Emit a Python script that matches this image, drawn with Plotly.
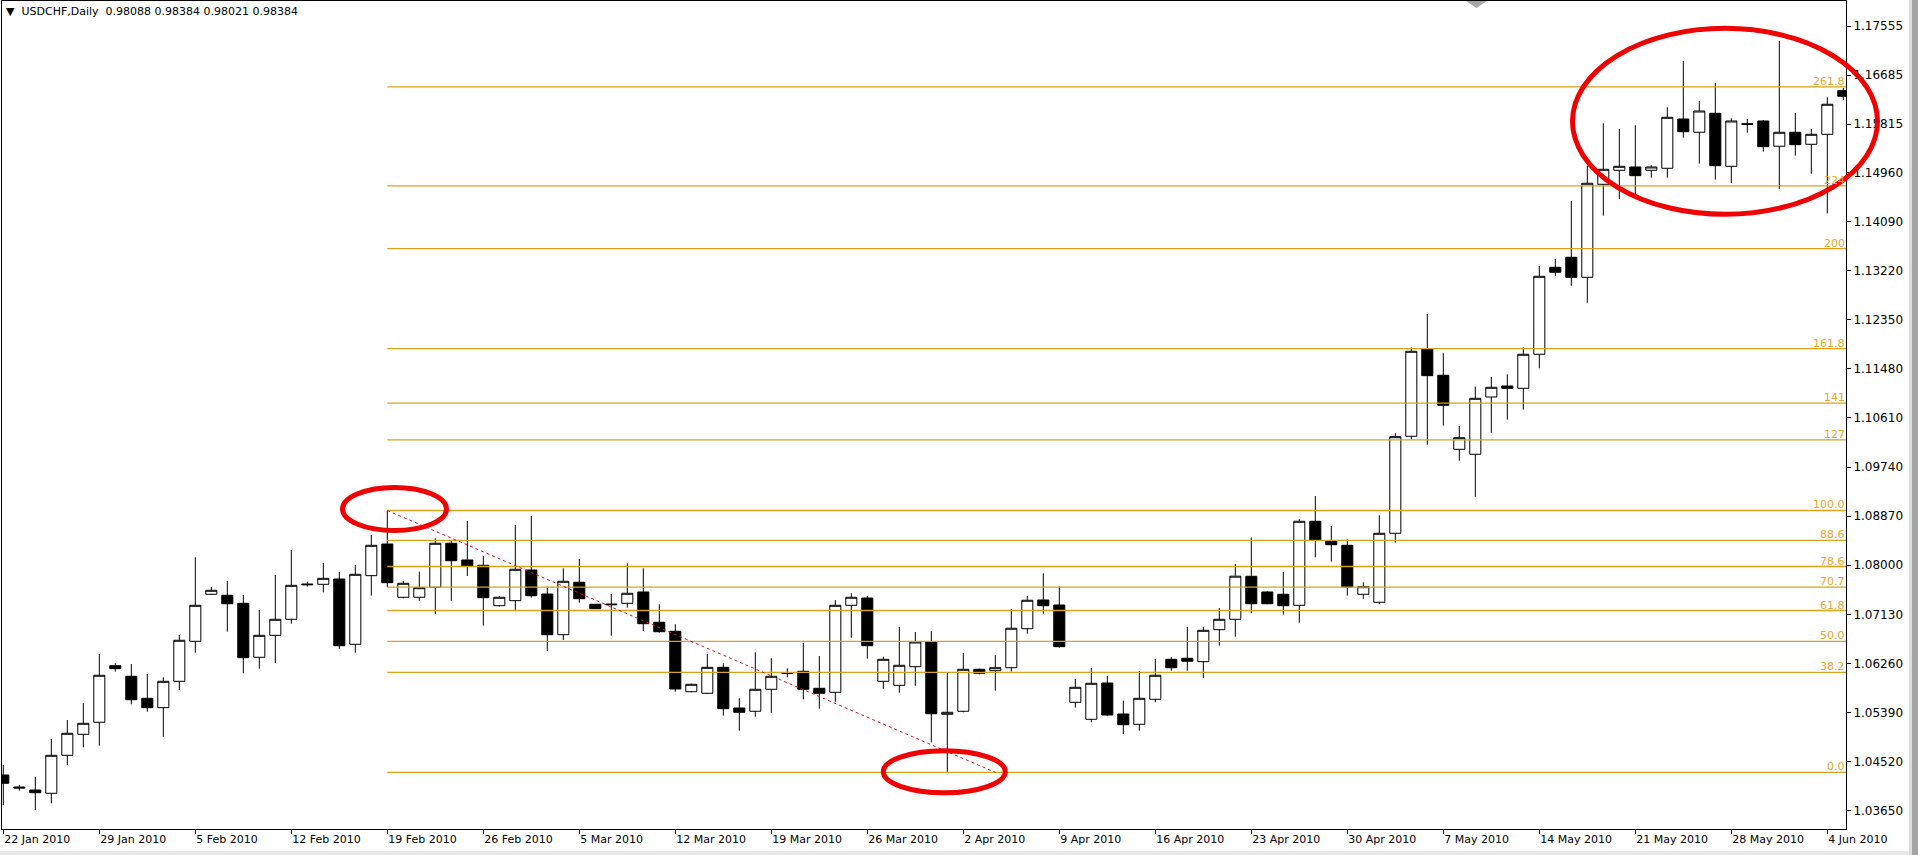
import pandas as pd
import plotly.graph_objects as go

# ── USDCHF daily bars (the feed carries a Sunday session, Saturdays are absent) ──
dates = pd.bdate_range("2010-01-22", periods=116, freq="C",
                       weekmask="Sun Mon Tue Wed Thu Fri")

opens = [
    1.04283, 1.04070, 1.04017, 1.03959, 1.04632, 1.05004, 1.05217, 1.06220,
    1.06032, 1.05642, 1.05476, 1.05943, 1.06652, 1.07485, 1.07467, 1.07325,
    1.06369, 1.06758, 1.07042, 1.07667, 1.07662, 1.07756, 1.06599, 1.07815,
    1.08376, 1.07432, 1.07432, 1.07609, 1.08389, 1.08093, 1.07999, 1.07283,
    1.07372, 1.07916, 1.07490, 1.06769, 1.07698, 1.07308, 1.07313, 1.07325,
    1.07526, 1.06989, 1.06829, 1.05759, 1.05731, 1.06191, 1.05470, 1.05412,
    1.05802, 1.06096, 1.06121, 1.05819, 1.05748, 1.07290, 1.07419, 1.05943,
    1.05872, 1.06202, 1.06640, 1.05359, 1.05412, 1.06156, 1.06131, 1.06184,
    1.06875, 1.07384, 1.07295, 1.05571, 1.05270, 1.05913, 1.05364, 1.05181,
    1.05624, 1.06333, 1.06351, 1.06291, 1.06858, 1.07042, 1.07804, 1.07526,
    1.07485, 1.07290, 1.08779, 1.08430, 1.08353, 1.07485, 1.07343, 1.08566,
    1.10285, 1.11832, 1.11366, 1.10054, 1.09966, 1.10981, 1.11176, 1.11135,
    1.11738, 1.13279, 1.13457, 1.13102, 1.14750, 1.14998, 1.15057, 1.14998,
    1.15034, 1.15907, 1.15672, 1.16008, 1.15069, 1.15824, 1.15872, 1.15424,
    1.15672, 1.15459, 1.15636, 1.16409,
]
highs = [
    1.04460, 1.04106, 1.04253, 1.04921, 1.05258, 1.05554, 1.06427, 1.06262,
    1.06250, 1.06073, 1.06014, 1.06764, 1.08141, 1.07614, 1.07721, 1.07473,
    1.07207, 1.07827, 1.08270, 1.07708, 1.08040, 1.07880, 1.08004, 1.08536,
    1.08970, 1.07721, 1.07886, 1.08477, 1.08447, 1.08784, 1.08164, 1.07455,
    1.08713, 1.08873, 1.07620, 1.07946, 1.08111, 1.07313, 1.07490, 1.08034,
    1.07946, 1.07308, 1.06953, 1.05901, 1.06427, 1.06262, 1.05642, 1.06457,
    1.06351, 1.06174, 1.06622, 1.06392, 1.07384, 1.07503, 1.07455, 1.06379,
    1.06906, 1.06817, 1.06829, 1.06096, 1.06445, 1.06167, 1.06404, 1.07225,
    1.07455, 1.07857, 1.07627, 1.05984, 1.06179, 1.06037, 1.05600, 1.06126,
    1.06339, 1.06369, 1.06906, 1.06911, 1.07242, 1.08022, 1.08495, 1.07538,
    1.07880, 1.08814, 1.09227, 1.08695, 1.08460, 1.07698, 1.08885, 1.10338,
    1.11862, 1.12452, 1.11756, 1.10467, 1.11164, 1.11336, 1.11383, 1.11862,
    1.13302, 1.13427, 1.14454, 1.15080, 1.15831, 1.15730, 1.15796, 1.15087,
    1.16115, 1.16935, 1.16226, 1.16545, 1.15920, 1.15907, 1.15890, 1.17290,
    1.16014, 1.15730, 1.16292, 1.16457,
]
lows = [
    1.03751, 1.04005, 1.03663, 1.03782, 1.04460, 1.04774, 1.04802, 1.06114,
    1.05536, 1.05405, 1.04962, 1.05789, 1.06450, 1.07473, 1.06822, 1.06085,
    1.06167, 1.06262, 1.06964, 1.07620, 1.07520, 1.06521, 1.06450, 1.07460,
    1.07609, 1.07414, 1.07372, 1.07136, 1.07372, 1.07809, 1.06929, 1.07269,
    1.07207, 1.07425, 1.06480, 1.06675, 1.07336, 1.07225, 1.06751, 1.07248,
    1.06835, 1.06805, 1.05759, 1.05748, 1.05718, 1.05334, 1.05068, 1.05316,
    1.05387, 1.06014, 1.05624, 1.05458, 1.05582, 1.06716, 1.06344, 1.05812,
    1.05741, 1.05865, 1.04862, 1.04330, 1.05394, 1.06067, 1.05777, 1.06114,
    1.06787, 1.07141, 1.06539, 1.05476, 1.05217, 1.05334, 1.05010, 1.05068,
    1.05571, 1.06131, 1.06131, 1.06002, 1.06574, 1.06734, 1.07148, 1.07308,
    1.07124, 1.06982, 1.08141, 1.08063, 1.07460, 1.07407, 1.07308, 1.08399,
    1.10232, 1.10136, 1.10473, 1.09852, 1.09215, 1.10349, 1.10579, 1.10756,
    1.11490, 1.13125, 1.12953, 1.12652, 1.14194, 1.14490, 1.14578, 1.14867,
    1.14867, 1.15576, 1.15115, 1.14832, 1.14773, 1.15665, 1.15328, 1.14667,
    1.15257, 1.14938, 1.14236, 1.16244,
]
closes = [
    1.04136, 1.04053, 1.03969, 1.04632, 1.05022, 1.05199, 1.06050, 1.06167,
    1.05617, 1.05476, 1.05943, 1.06670, 1.07290, 1.07556, 1.07318, 1.06362,
    1.06758, 1.07042, 1.07644, 1.07655, 1.07768, 1.06574, 1.07839, 1.08353,
    1.07691, 1.07680, 1.07602, 1.08389, 1.08080, 1.07987, 1.07425, 1.07432,
    1.07928, 1.07460, 1.06769, 1.07715, 1.07407, 1.07230, 1.07301, 1.07503,
    1.06964, 1.06822, 1.05807, 1.05890, 1.06191, 1.05458, 1.05394, 1.05802,
    1.06032, 1.06085, 1.05802, 1.05731, 1.07290, 1.07432, 1.06574, 1.06333,
    1.06227, 1.06640, 1.05369, 1.05394, 1.06156, 1.06085, 1.06184, 1.06883,
    1.07379, 1.07283, 1.06557, 1.05837, 1.05908, 1.05346, 1.05174, 1.05642,
    1.06050, 1.06184, 1.06298, 1.06847, 1.07042, 1.07806, 1.07318, 1.07318,
    1.07283, 1.08779, 1.08447, 1.08364, 1.07614, 1.07620, 1.08566, 1.10278,
    1.11791, 1.11359, 1.10834, 1.10260, 1.10958, 1.11153, 1.11135, 1.11738,
    1.13120, 1.13191, 1.13102, 1.14768, 1.15016, 1.15069, 1.14903, 1.15057,
    1.15937, 1.15682, 1.16049, 1.15080, 1.15872, 1.15813, 1.15417, 1.15672,
    1.15452, 1.15636, 1.16168, 1.16310,
]

# price scale labels as the terminal prints them
price_labels = ["1.03650", "1.04520", "1.05390", "1.06260", "1.07130", "1.08000",
                "1.08870", "1.09740", "1.10610", "1.11480", "1.12350", "1.13220",
                "1.14090", "1.14960", "1.15815", "1.16685", "1.17555"]

# Fibonacci tool: swing high (19 Feb) -> swing low (1 Apr)
FIB_HIGH, FIB_LOW = 1.08970, 1.04330
FIB_START, FIB_END = 24, 62          # bar indexes of the two anchor points
fib_ratios = [0.0, 0.382, 0.5, 0.618, 0.707, 0.786, 0.886, 1.0,
              1.27, 1.41, 1.618, 2.0, 2.24, 2.618]
fib_labels = ["0.0", "38.2", "50.0", "61.8", "70.7", "78.6", "88.6", "100.0",
              "127", "141", "161.8", "200", "224", "261.8"]

TITLE = "▼\u00a0\u00a0USDCHF,Daily\u00a0\u00a00.98088 0.98384 0.98021 0.98384"

# ── Theme / geometry ──────────────────────────────────────────────────────────
FONT     = "DejaVu Sans, Tahoma, sans-serif"
FIB_LINE = "#D9A21C"
FIB_TEXT = "#E6A633"
MARK_RED = "#F00000"
W, H = 1918, 855
PL, PR, PT, PB = 2, 1846, 1, 829     # plot rectangle in page pixels
X_RANGE = [-0.081, 115.169]
Y_RANGE = [1.03326, 1.17998]


def fx(px):
    return (px - PL) / (PR - PL)


def fy(py):
    return (PB - py) / (PB - PT)


def ellipse(cx, cy, rx, ry):
    return dict(type="circle", xref="paper", yref="paper",
                x0=fx(cx - rx), x1=fx(cx + rx), y0=fy(cy + ry), y1=fy(cy - ry),
                line=dict(color=MARK_RED, width=5), layer="above")


x_cat = [d.strftime("%Y-%m-%d") for d in dates]
tick_idx = list(range(0, len(dates), 6))

fig = go.Figure(go.Candlestick(
    x=x_cat, open=opens, high=highs, low=lows, close=closes,
    increasing=dict(line=dict(color="black", width=1), fillcolor="white"),
    decreasing=dict(line=dict(color="black", width=1), fillcolor="black"),
    whiskerwidth=0,
    showlegend=False,
))

shapes = []
annotations = []

# ── Fibonacci levels ──────────────────────────────────────────────────────────
for r, lab in zip(fib_ratios, fib_labels):
    lvl = FIB_LOW + r * (FIB_HIGH - FIB_LOW)
    shapes.append(dict(type="line", xref="x", yref="y",
                       x0=FIB_START, x1=X_RANGE[1], y0=lvl, y1=lvl,
                       line=dict(color=FIB_LINE, width=1.3), layer="above"))
    annotations.append(dict(xref="paper", yref="y", x=1.0, y=lvl,
                            xanchor="right", yanchor="bottom", text=lab,
                            showarrow=False, borderpad=0, yshift=-2,
                            font=dict(family=FONT, size=11, color=FIB_TEXT)))

# dotted trend line of the fib tool
shapes.append(dict(type="line", xref="x", yref="y",
                   x0=FIB_START, y0=FIB_HIGH, x1=FIB_END, y1=FIB_LOW,
                   line=dict(color="#D01818", width=1, dash="dot"), layer="above"))

# ── Hand drawn red ellipses ───────────────────────────────────────────────────
shapes += [
    ellipse(394.5, 509, 52, 21.5),
    ellipse(944.3, 771.7, 61, 21),
    ellipse(1725, 121.3, 152.5, 93),
]

# ── Terminal chrome ───────────────────────────────────────────────────────────
shapes += [
    dict(type="rect", xref="paper", yref="paper", x0=fx(1909), x1=fx(1912),
         y0=fy(H), y1=fy(0), line=dict(width=0), fillcolor="#DCDCDC"),
    dict(type="rect", xref="paper", yref="paper", x0=fx(1912), x1=fx(W),
         y0=fy(H), y1=fy(0), line=dict(width=0), fillcolor="#A4A4A4"),
    dict(type="rect", xref="paper", yref="paper", x0=fx(0), x1=fx(1909),
         y0=fy(H), y1=fy(851), line=dict(width=0), fillcolor="#E8E8E8"),
    dict(type="path", xref="paper", yref="paper",
         path=f"M {fx(1466)} {fy(1)} L {fx(1487)} {fy(1)} L {fx(1476.5)} {fy(8)} Z",
         line=dict(width=0), fillcolor="#A8A8A8"),
]

annotations.append(dict(xref="paper", yref="paper", x=fx(4), y=fy(12),
                        xanchor="left", yanchor="middle", text=TITLE,
                        showarrow=False,
                        font=dict(family=FONT, size=11, color="black")))

fig.update_layout(
    width=W, height=H,
    margin=dict(l=PL, r=W - PR, t=PT, b=H - PB, pad=0),
    paper_bgcolor="white", plot_bgcolor="white",
    font=dict(family=FONT, size=11, color="black"),
    boxgap=0.31, boxgroupgap=0,
    shapes=shapes, annotations=annotations,
    showlegend=False,
    xaxis=dict(
        type="category", range=X_RANGE, rangeslider=dict(visible=False),
        tickvals=[x_cat[i] for i in tick_idx],
        ticktext=[f"{dates[i].day} {dates[i].strftime('%b %Y')}" for i in tick_idx],
        ticks="outside", ticklen=4, tickcolor="black",
        ticklabelposition="outside right",
        showline=True, linecolor="black", linewidth=1, mirror=True,
        showgrid=False, zeroline=False,
        tickfont=dict(family=FONT, size=11, color="black"),
    ),
    yaxis=dict(
        side="right", range=Y_RANGE,
        tickvals=[float(v) for v in price_labels], ticktext=price_labels,
        ticks="outside", ticklen=4, tickcolor="black",
        showline=True, linecolor="black", linewidth=1, mirror=True,
        showgrid=False, zeroline=False,
        tickfont=dict(family=FONT, size=12, color="black"),
    ),
)

fig.write_html("out.html", config={"displayModeBar": False},
               post_script="document.body.style.margin='0';")
